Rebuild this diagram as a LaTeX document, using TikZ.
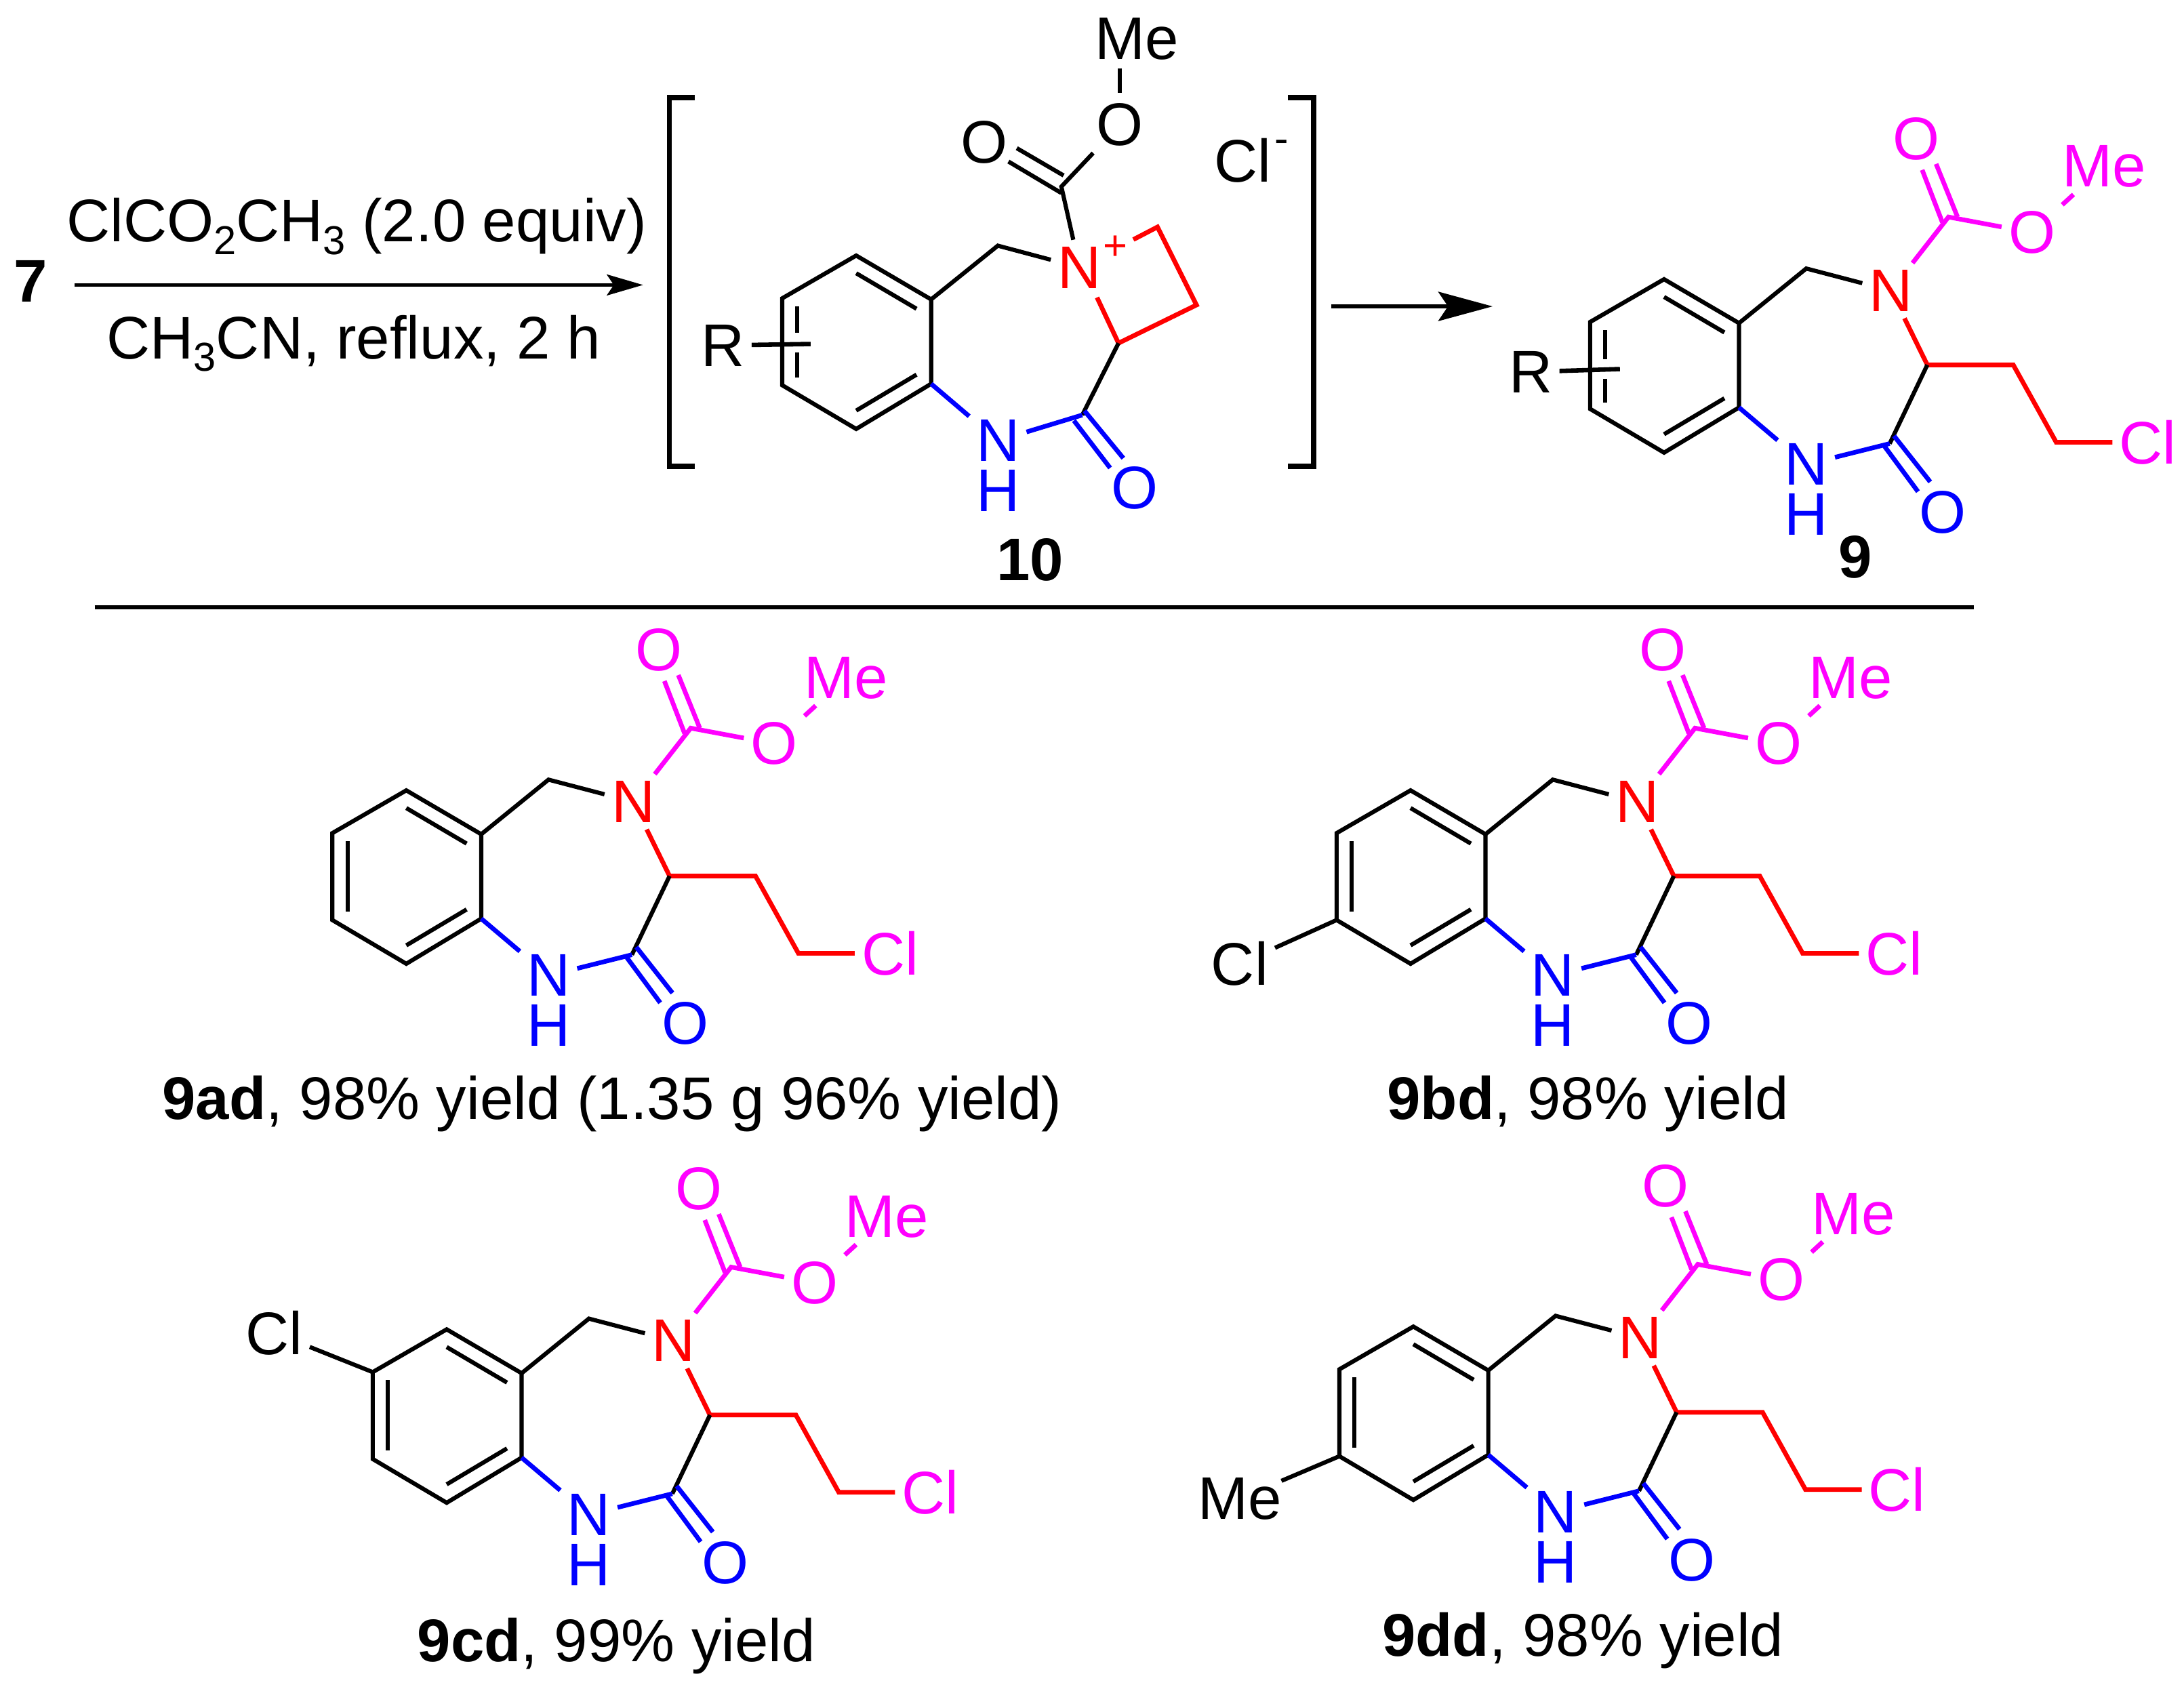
\documentclass[tikz,border=0pt]{standalone}
\usepackage{fontspec}
\setmainfont{Liberation Sans}
\usetikzlibrary{arrows.meta}
\definecolor{mg}{RGB}{255,0,255}
\definecolor{rd}{RGB}{255,0,0}
\definecolor{bl}{RGB}{0,0,255}
\newcommand{\lowidx}[1]{\raisebox{-9pt}{\fontsize{29}{30}\selectfont #1}}
\tikzset{
  atom/.style={inner sep=5pt,outer sep=0pt,font=\fontsize{43.2}{47}\selectfont},
  plain/.style={inner sep=0pt,outer sep=0pt,font=\fontsize{43.2}{47}\selectfont},
  bond/.style={line width=3pt,line join=miter},
  cbond/.style={line width=3.3pt,line join=miter},
  bracketline/.style={line width=3.8pt},
  sepline/.style={line width=2.8pt},
}
\newcommand{\benzo}[3]{%
  \begin{scope}[shift={(#2,#3)}]
    \coordinate (#1a) at (290.7,567.5);
    \coordinate (#1b) at (344.5,599);
    \coordinate (#1c) at (344.5,659.6);
    \coordinate (#1d) at (290.7,692);
    \coordinate (#1e) at (237.6,660.6);
    \coordinate (#1f) at (237.6,598.2);
    \coordinate (#1ia) at (290.7,580.2);
    \coordinate (#1ib) at (334,605.7);
    \coordinate (#1ic) at (334,653);
    \coordinate (#1id) at (290.7,678.8);
    \coordinate (#1ie) at (248.5,654.6);
    \coordinate (#1if) at (248.5,604);
  \end{scope}
  \draw[bond] (#1a)--(#1b)--(#1c)--(#1d)--(#1e)--(#1f)--cycle;
  \draw[bond] (#1ia)--(#1ib) (#1ic)--(#1id);
}
\newcommand{\product}[3]{%
  \benzo{#1}{#2}{#3}
  \begin{scope}[shift={(#2,#3)}]
    \coordinate (#1ch) at (392.8,559.8);
    \coordinate (#1cthree) at (479.7,629);
    \coordinate (#1ctwo) at (452.7,685.5);
    \coordinate (#1sa) at (541.4,629);
    \coordinate (#1sb) at (572.2,684.5);
    \coordinate (#1cb) at (494.9,522.8);
    \coordinate (#1da) at (490.5,526.6);
    \coordinate (#1db) at (476,489);
    \coordinate (#1dc) at (501.4,522.8);
    \coordinate (#1dd) at (486,484.7);
    \coordinate (#1ea) at (449,687.5);
    \coordinate (#1eb) at (473,720);
    \coordinate (#1ec) at (455.8,680);
    \coordinate (#1ed) at (481.8,713);
    \node[atom,text=rd] (#1N) at (453.6,575.7) {N};
    \node[atom,text=bl] (#1NH) at (392.8,700.5) {N};
    \node[plain,text=bl] (#1H) at (392.8,736.5) {H};
    \node[atom,text=bl] (#1Ob) at (490.9,735) {O};
    \node[atom,text=mg] (#1Cl) at (638,684.5) {Cl};
    \node[atom,text=mg] (#1Ot) at (471.8,466.7) {O};
    \node[atom,text=mg] (#1Or) at (554.8,534) {O};
    \node[atom,text=mg] (#1Me) at (606.5,486.6) {Me};
  \end{scope}
  \draw[bond] (#1b)--(#1ch)--(#1N);
  \draw[cbond,rd] (#1N)--(#1cthree);
  \draw[cbond,rd] (#1cthree)--(#1sa)--(#1sb)--(#1Cl);
  \draw[bond] (#1cthree)--(#1ctwo);
  \draw[cbond,bl] (#1c)--(#1NH);
  \draw[cbond,bl] (#1NH)--(#1ctwo);
  \draw[cbond,bl] (#1ea)--(#1eb) (#1ec)--(#1ed);
  \draw[cbond,mg] (#1N)--(#1cb)--(#1Or);
  \draw[cbond,mg] (#1da)--(#1db) (#1dc)--(#1dd);
  \draw[cbond,mg] (#1Or)--(#1Me);
}
\begin{document}
\begin{tikzpicture}[x=1pt,y=-1pt]
\useasboundingbox (0,0) rectangle (1568,1212.3);

% reaction arrow 1
\node[plain] (seven) at (22,202) {\textbf{7}};
\coordinate (aone) at (53.6,204.6);
\coordinate (bone) at (461.7,204.6);
\draw[line width=2.6pt,-{Stealth[length=26pt,width=15pt,inset=5pt]}] (aone)--(bone);
\node[plain,anchor=base] (reagent) at (256,173.5) {ClCO\lowidx{2}CH\lowidx{3} (2.0 equiv)};
\node[plain,anchor=base] (cond) at (254,257.5) {CH\lowidx{3}CN, reflux, 2 h};

% brackets
\coordinate (lba) at (499,70);
\coordinate (lbb) at (480.6,70);
\coordinate (lbc) at (480.6,335);
\coordinate (lbd) at (499,335);
\draw[bracketline] (lba)--(lbb)--(lbc)--(lbd);
\coordinate (rba) at (924.6,70);
\coordinate (rbb) at (943,70);
\coordinate (rbc) at (943,335);
\coordinate (rbd) at (924.6,335);
\draw[bracketline] (rba)--(rbb)--(rbc)--(rbd);

% intermediate 10
\benzo{t}{324}{-384}
\coordinate (tia) at (572.5,220);
\coordinate (tib) at (572.5,239);
\coordinate (tic) at (572.5,253);
\coordinate (tid) at (572.5,271);
\draw[bond] (tia)--(tib) (tic)--(tid);
\node[atom] (tR) at (519,248) {R};
\coordinate (tRe) at (582,247);
\draw[line width=3.2pt] (tR)--(tRe);
\coordinate (tch) at (716.4,176.4);
\node[atom,text=rd] (tN) at (775,192) {N};
\node[plain,text=rd,font=\fontsize{30}{30}\selectfont] (tplus) at (801,178) {+};
\coordinate (tcb) at (762,134);
\coordinate (tda) at (762,138.6);
\coordinate (tdb) at (724,116);
\coordinate (tdc) at (763.6,126);
\coordinate (tdd) at (730,106.4);
\node[atom] (tOl) at (706.4,102) {O};
\node[atom] (tOr) at (804,89.6) {O};
\node[atom] (tMe) at (816,28) {Me};
\draw[bond] (tb)--(tch)--(tN);
\draw[bond] (tN)--(tcb)--(tOr);
\draw[bond] (tda)--(tdb) (tdc)--(tdd);
\coordinate (tMeb) at (804,49);
\coordinate (tOrt) at (804,66.6);
\draw[bond] (tMeb)--(tOrt);
\node[plain] (tCl) at (892,115) {Cl};
\node[plain,font=\fontsize{30}{30}\selectfont] (tminus) at (920,105) {-};
\coordinate (taza) at (813.7,172);
\coordinate (tazb) at (831,163);
\coordinate (tazc) at (859,219);
\coordinate (tazd) at (803,246.4);
\coordinate (taze) at (787.6,213.6);
\draw[cbond,rd] (taza)--(tazb)--(tazc)--(tazd)--(taze);
\coordinate (tctwo) at (777,298);
\draw[bond] (tazd)--(tctwo);
\node[atom,text=bl] (tNH) at (716.4,316.4) {N};
\node[plain,text=bl] (tH) at (716.4,352.5) {H};
\node[atom,text=bl] (tOb) at (814.6,350.5) {O};
\draw[cbond,bl] (tc)--(tNH);
\draw[cbond,bl] (tNH)--(tctwo);
\coordinate (tea) at (778.6,295);
\coordinate (teb) at (806.5,329);
\coordinate (tec) at (771,302);
\coordinate (ted) at (797,336);
\draw[cbond,bl] (tea)--(teb) (tec)--(ted);
\node[plain] (lten) at (739.7,402) {\textbf{10}};

% arrow 2
\coordinate (atwo) at (956,220);
\coordinate (btwo) at (1071.6,220);
\draw[line width=2.6pt,-{Stealth[length=39pt,width=21pt,inset=7pt]}] (atwo)--(btwo);

% product 9
\product{n}{904}{-367}
\coordinate (nia) at (1152.5,237);
\coordinate (nib) at (1152.5,258);
\coordinate (nic) at (1152.5,272);
\coordinate (nid) at (1152.5,289);
\draw[bond] (nia)--(nib) (nic)--(nid);
\node[atom] (nR) at (1099,267) {R};
\coordinate (nRe) at (1163,265);
\draw[line width=3.2pt] (nR)--(nRe);
\node[plain] (lnine) at (1332,400) {\textbf{9}};

% separator
\coordinate (sa) at (68,436);
\coordinate (sb) at (1417,436);
\draw[sepline] (sa)--(sb);

% 9ad
\product{p}{1}{0}
\draw[bond] (pie)--(pif);
\node[plain,anchor=base] (lad) at (439.5,803.5) {\textbf{9ad}, 98\% yield (1.35 g 96\% yield)};

% 9bd
\product{q}{722}{0}
\draw[bond] (qie)--(qif);
\node[atom] (qX) at (890,692) {Cl};
\draw[bond] (qX)--(qe);
\node[plain,anchor=base] (lbd) at (1140,803.5) {\textbf{9bd}, 98\% yield};

% 9cd
\product{r}{30}{387}
\draw[bond] (rie)--(rif);
\node[atom] (rX) at (197,957) {Cl};
\draw[bond] (rX)--(rf);
\node[plain,anchor=base] (lcd) at (442.5,1193) {\textbf{9cd}, 99\% yield};

% 9dd
\product{s}{724}{385}
\draw[bond] (sie)--(sif);
\node[atom,inner sep=0pt] (sX) at (890,1076) {Me};
\draw[bond] (sX)--(se);
\node[plain,anchor=base] (ldd) at (1136.5,1189) {\textbf{9dd}, 98\% yield};
\end{tikzpicture}
\end{document}
